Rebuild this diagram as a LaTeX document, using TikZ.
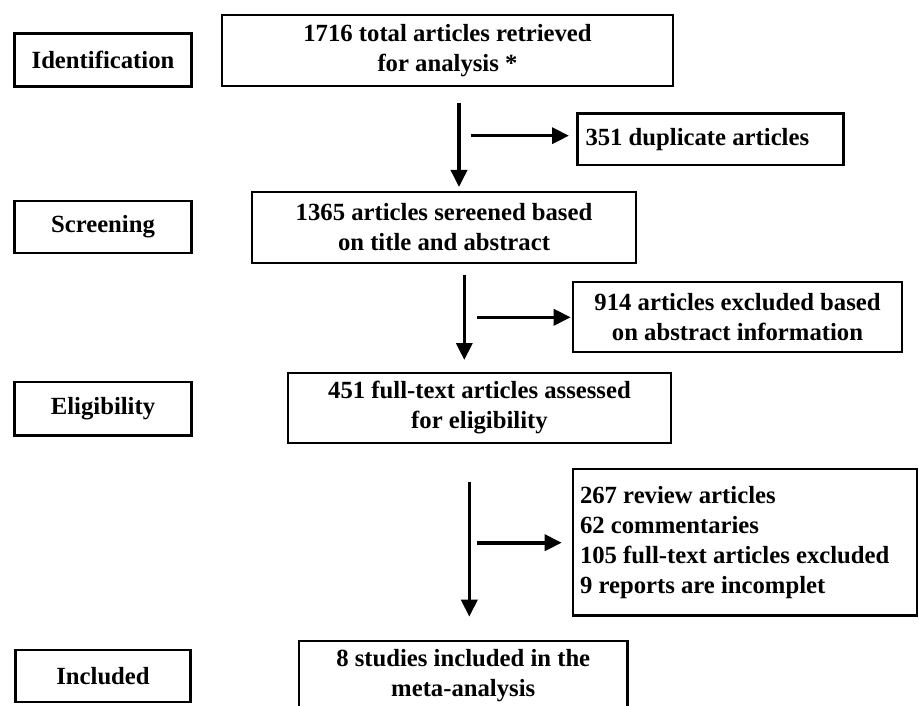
\documentclass[tikz,border=0pt]{standalone}
\usepackage{fontspec}
\setmainfont{Liberation Serif}
\usetikzlibrary{arrows.meta}
\begin{document}
\begin{tikzpicture}[x=1pt,y=-1pt,
  box/.style={draw=black,line width=2.6pt,inner sep=0pt,align=center,
    font=\fontsize{24.7}{30}\selectfont\bfseries},
  lbox/.style={box,align=flush left,inner ysep=0pt},
  arr/.style={line width=3.6pt,-{Triangle[width=16pt,length=17pt]}}]
\useasboundingbox (0,0) rectangle (919,706);
\fill[white] (0,0) rectangle (919,706);
\clip (0,0) rectangle (919,706);
% stage labels
\node[box,minimum width=177pt,minimum height=53pt] (ident) at (103,60) {Identification};
\node[box,minimum width=177pt,minimum height=52pt] (screen) at (103,227) {Screening};
\node[box,minimum width=177pt,minimum height=53.5pt] (elig) at (103,408.75) {Eligibility};
\node[box,minimum width=175pt,minimum height=52pt] (incl) at (103,676) {Included};
% main flow
\node[box,minimum width=451pt,minimum height=71pt] (top) at (447.5,50.5) {1716 total articles retrieved\\for analysis *};
\node[box,minimum width=384pt,minimum height=71pt] (s1365) at (444,227.5) {1365 articles sereened based\\on title and abstract};
\node[box,minimum width=383pt,minimum height=70pt] (e451) at (479.5,408) {451 full-text articles assessed\\for eligibility};
\node[box,minimum width=328.5pt,minimum height=70pt] (final) at (463.25,676) {8 studies included in the\\meta-analysis};
% exclusions
\node[lbox,inner xsep=8pt,text width=250pt,minimum height=51.5pt] (dup) at (710.5,139.25) {351 duplicate articles};
\node[box,minimum width=329pt,minimum height=70pt] (ex914) at (737.5,317) {914 articles excluded based\\on abstract information};
\node[lbox,inner xsep=7pt,text width=330pt,minimum height=146.5pt] (ex267) at (745,542.25) {267 review articles\\62 commentaries\\105 full-text articles excluded\\9 reports are incomplet};
% arrow end points
\coordinate (a1s) at (459,102.7);
\coordinate (a1e) at (459,187);
\coordinate (b1s) at (470.7,135.7);
\coordinate (b1e) at (569,135.7);
\coordinate (a2s) at (464.3,275);
\coordinate (a2e) at (464.3,360);
\coordinate (b2s) at (477,317.3);
\coordinate (b2e) at (570.7,317.3);
\coordinate (a3s) at (469.3,481.7);
\coordinate (a3e) at (469.3,616.7);
\coordinate (b3s) at (477,542.7);
\coordinate (b3e) at (561.7,542.7);
\draw[arr] (a1s) -- (a1e);
\draw[arr] (b1s) -- (b1e);
\draw[arr] (a2s) -- (a2e);
\draw[arr] (b2s) -- (b2e);
\draw[arr] (a3s) -- (a3e);
\draw[arr] (b3s) -- (b3e);
\end{tikzpicture}
\end{document}
